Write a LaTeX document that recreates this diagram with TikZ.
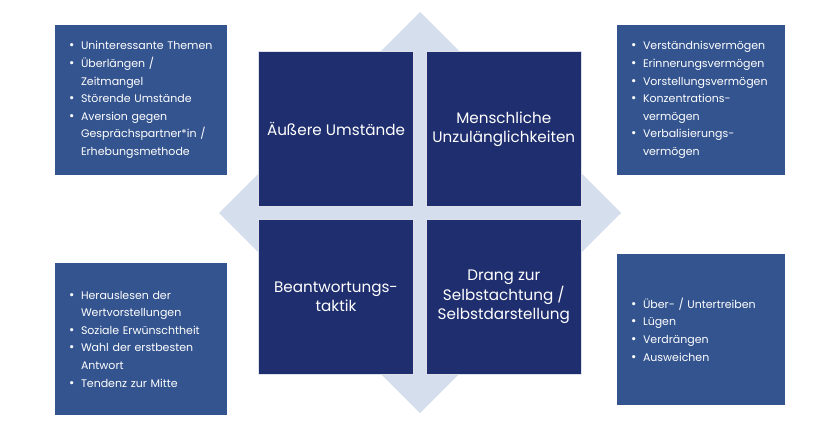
\documentclass[tikz,border=0pt]{standalone}
\usepackage{fontspec}
\setmainfont{Poppins}
\usepackage{tikz}
\usetikzlibrary{positioning}
\definecolor{quadnavy}{HTML}{1F2E6E}
\definecolor{sideblue}{HTML}{34548F}
\definecolor{diamondgrey}{HTML}{D4DEED}
\newcommand{\bitem}{\makebox[12pt][l]{\fontsize{13}{0}\selectfont\textbullet}}
\newcommand{\bcont}{\hspace*{12pt}}

\begin{document}
\begin{tikzpicture}[x=1pt, y=-1pt,
    quad/.style={minimum size=155pt, fill=quadnavy, draw=white!85!quadnavy,
                 line width=0.8pt, text=white, align=center,
                 font=\fontsize{15.2}{19.3}\selectfont},
    sidebox/.style={fill=sideblue, text=white, align=left, inner xsep=14pt,
                    font=\fontsize{11}{17.6}\selectfont}
  ]
    \fill[white] (0,0) rectangle (819,433);
    \useasboundingbox (0,0) rectangle (819,433);

    % background diamond
    \fill[diamondgrey] (420,12) -- (621,213) -- (420,413) -- (219,213) -- cycle;

    % the four quadrants
    \node[quad] (outer) at (336,129) {Äußere Umstände};
    \node[quad, right=12pt of outer] (human) {Menschliche\\Unzulänglichkeiten};
    \node[quad, below=12pt of outer] (tactic) {Beantwortungs-\\taktik};
    \node[quad, below=12pt of human] (urge) {Drang zur\\Selbstachtung /\\Selbstdarstellung};

    % side lists
    \node[sidebox, text width=144pt, minimum height=150pt] (outerlist) at (141,100)
      {\bitem Uninteressante Themen\\
       \bitem Überlängen /\\ \bcont Zeitmangel\\
       \bitem Störende Umstände\\
       \bitem Aversion gegen\\ \bcont Gesprächspartner*in /\\ \bcont Erhebungsmethode};
    \node[sidebox, text width=140pt, minimum height=150pt] (humanlist) at (701,100)
      {\bitem Verständnisvermögen\\
       \bitem Erinnerungsvermögen\\
       \bitem Vorstellungsvermögen\\
       \bitem Konzentrations-\\ \bcont vermögen\\
       \bitem Verbalisierungs-\\ \bcont vermögen};
    \node[sidebox, text width=144pt, minimum height=152pt] (tacticlist) at (141,339)
      {\bitem Herauslesen der\\ \bcont Wertvorstellungen\\
       \bitem Soziale Erwünschtheit\\
       \bitem Wahl der erstbesten\\ \bcont Antwort\\
       \bitem Tendenz zur Mitte};
    \node[sidebox, text width=140pt, minimum height=151pt] (urgelist) at (701,329.5)
      {\bitem Über- / Untertreiben\\
       \bitem Lügen\\
       \bitem Verdrängen\\
       \bitem Ausweichen};
  \end{tikzpicture}
\end{document}
